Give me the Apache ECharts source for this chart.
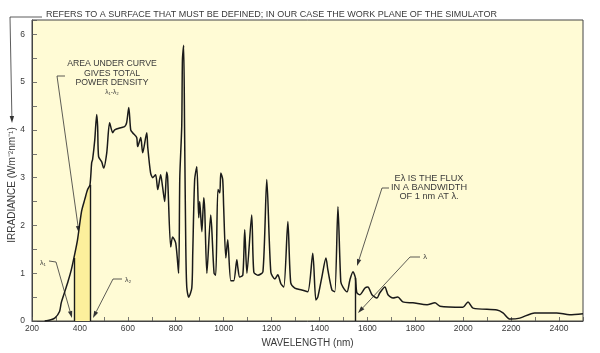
<!DOCTYPE html>
<html><head><meta charset="utf-8">
<script src="https://cdn.jsdelivr.net/npm/echarts@6/dist/echarts.min.js"></script>
<style>html,body{margin:0;padding:0;background:#fff}#c{width:600px;height:353px}</style>
</head><body><div id="c"></div>
<script>
// ---- data ----
const wavelength = [253,275,295,315,322,336,350,364,375,390,407,420,432,442,449,453,462,470,474,478,491,499,512,524,537,545,574,587,595,604,612,620,637,641,654,662,679,683,695,704,716,725,737,745,754,762,766,779,787,800,812,817,825,828,833,837,842,846,854,867,871,879,888,896,900,909,917,921,930,946,950,960,967,976,984,988,996,1000,1009,1017,1030,1042,1055,1059,1067,1080,1088,1097,1117,1126,1143,1164,1180,1197,1214,1226,1239,1251,1268,1280,1297,1326,1351,1372,1385,1393,1410,1427,1435,1452,1464,1477,1489,1498,1515,1527,1540,1550,1556,1569,1590,1602,1619,1640,1652,1673,1686,1707,1727,1748,1790,1849,1882,1903,1999,2020,2041,2141,2166,2195,2236,2298,2390,2444,2500];
const irradiance = [0,0.02,0.06,0.2,0.38,0.6,0.82,1.07,1.32,1.70,2.30,2.54,2.75,2.85,3.31,3.38,3.79,4.32,4.07,3.44,3.33,3.20,3.52,4.15,3.94,4.00,4.05,4.07,4.15,4.47,4.00,3.94,3.84,3.65,3.84,3.52,3.94,3.65,3.10,3.00,3.06,2.75,3.06,2.81,2.50,3.12,3.02,1.55,1.76,1.63,1.00,3.02,4.07,5.47,5.77,3.94,1.55,0.71,0.50,0.69,1.42,2.96,3.23,2.16,2.50,1.87,2.58,2.33,1.00,2.22,1.97,1.00,0.96,2.75,2.68,3.10,2.96,2.39,1.32,1.70,0.84,0.84,1.28,1.13,0.92,0.96,1.91,1.00,2.22,1.02,0.96,1.03,2.96,1.02,0.88,0.97,0.78,0.71,2.08,0.80,0.69,0.65,0.61,1.42,0.44,0.50,0.92,1.32,1.07,0.65,0.61,2.39,0.82,0.71,0.61,0.86,1.03,0.90,0.59,0.55,0.69,0.71,0.55,0.48,0.59,0.71,0.55,0.48,0.50,0.40,0.38,0.34,0.38,0.31,0.29,0.40,0.27,0.23,0.17,0.04,0.06,0.17,0.17,0.13,0.15];
const xTickLabels = [200,400,600,800,1000,1200,1400,1600,1800,2000,2200,2400];
const yTickLabels = [0,1,2,3,4,5,6];
const lambda1 = 375, lambda2 = 442, lambdaE = 1550;

// ---- build ----
const curve = wavelength.map((w, i) => [w, irradiance[i]]);
const band = curve.filter(p => p[0] >= lambda1 && p[0] <= lambda2);
const valAt = w => irradiance[wavelength.indexOf(w)];

const FONT = '"Liberation Sans", Arial, Helvetica, sans-serif';
const TXT = '#3a3a3a';
const chart = echarts.init(document.getElementById('c'), null, {renderer: 'canvas'});

function arrow(points, color) {
  const n = points.length;
  const [tx, ty] = points[n - 1];
  const [fx, fy] = points[n - 2];
  let dx = tx - fx, dy = ty - fy;
  const len = Math.hypot(dx, dy); dx /= len; dy /= len;
  const L = 7, W = 2.2;
  const bx = tx - dx * L, by = ty - dy * L;
  const pts = points.slice(0, n - 1).concat([[bx, by]]);
  return [
    {type: 'polyline', silent: true, shape: {points: pts}, style: {stroke: color, lineWidth: 0.8, fill: null}},
    {type: 'polygon', silent: true, shape: {points: [[tx, ty], [bx - dy * W, by + dx * W], [bx + dy * W, by - dx * W]]}, style: {fill: color}}
  ];
}
function text(x, y, str, size, align, lh, rot) {
  return {type: 'text', silent: true, x: x, y: y, rotation: rot || 0,
    style: {text: str, font: size + 'px ' + FONT, fontSize: size, fontFamily: FONT, fill: TXT,
      align: align || 'left', textAlign: align || 'left', verticalAlign: 'middle', textVerticalAlign: 'middle',
      lineHeight: lh || size + 1}};
}

const graphics = [].concat(
  arrow([[42, 17], [10, 17], [12, 123]], '#333'),
  [text(46, 15, 'REFERS TO A SURFACE THAT MUST BE DEFINED; IN OUR CASE THE WORK PLANE OF THE SIMULATOR', 9, 'left')],
  [text(12, 185, 'IRRADIANCE (Wm⁻²nm⁻¹)', 10, 'center', 11, Math.PI / 2)],
  [text(112, 73.5, 'AREA UNDER CURVE\nGIVES TOTAL\nPOWER DENSITY', 8.7, 'center', 9.5)],
  [text(112, 92, 'λ₁-λ₂', 6.5, 'center')],
  arrow([[65, 76], [57, 76], [79, 233]], '#333'),
  [text(43, 263, 'λ₁', 7, 'center')],
  arrow([[49, 261], [56, 262], [72, 318]], '#333'),
  [text(128, 280, 'λ₂', 7, 'center')],
  arrow([[122, 279], [113, 279], [93, 318]], '#333'),
  [text(429, 187.5, 'Eλ IS THE FLUX\nIN A BANDWIDTH\nOF 1 nm AT λ.', 9.2, 'center', 9)],
  arrow([[389, 188], [382, 188], [357, 266]], '#333'),
  [text(425, 257, 'λ', 7.5, 'center')],
  arrow([[420, 257], [410, 257], [358, 313]], '#333')
);

chart.setOption({
  animation: false,
  backgroundColor: '#ffffff',
  grid: {left: 32, right: 17, top: 20, bottom: 32, show: true, backgroundColor: '#fffbd5',
    borderColor: '#444', borderWidth: 1, containLabel: false, outerBoundsMode: 'none'},
  xAxis: {
    type: 'value', min: 200, max: 2500, interval: 100,
    name: 'WAVELENGTH (nm)', nameLocation: 'middle', nameGap: 11,
    nameTextStyle: {fontFamily: FONT, fontSize: 10, color: TXT},
    axisLine: {show: true, onZero: false, lineStyle: {color: '#444', width: 1}},
    axisTick: {show: true, inside: true, length: 4, lineStyle: {color: '#555', width: 0.8}},
    axisLabel: {fontFamily: FONT, fontSize: 8.5, color: TXT, margin: 3,
      formatter: v => xTickLabels.indexOf(v) >= 0 ? String(v) : ''},
    splitLine: {show: false}
  },
  yAxis: {
    type: 'value', min: 0, max: 6.3, interval: 0.5,
    axisLine: {show: true, onZero: false, lineStyle: {color: '#444', width: 1}},
    axisTick: {show: true, inside: true, length: 5, lineStyle: {color: '#555', width: 0.8}},
    axisLabel: {fontFamily: FONT, fontSize: 8.5, color: TXT, margin: 7,
      formatter: v => yTickLabels.indexOf(v) >= 0 ? String(v) : ''},
    splitLine: {show: false}
  },
  series: [
    {type: 'line', data: band, smooth: 0.25, symbol: 'none', z: 1,
      lineStyle: {width: 0, opacity: 0}, areaStyle: {color: '#fcef9c', opacity: 1, origin: 'start'},
      markLine: {silent: true, symbol: 'none', label: {show: false},
        lineStyle: {color: '#1a1a1a', width: 1.4, type: 'solid'},
        data: [
          [{coord: [lambda1, 0]}, {coord: [lambda1, valAt(lambda1)]}],
          [{coord: [lambda2, 0]}, {coord: [lambda2, valAt(lambda2)]}],
          [{coord: [lambdaE, 0]}, {coord: [lambdaE, valAt(lambdaE)]}]
        ]}},
    {type: 'line', data: curve, smooth: 0.25, symbol: 'none', z: 3,
      lineStyle: {color: '#1a1a1a', width: 1.5}}
  ],
  graphic: graphics
});
</script></body></html>
